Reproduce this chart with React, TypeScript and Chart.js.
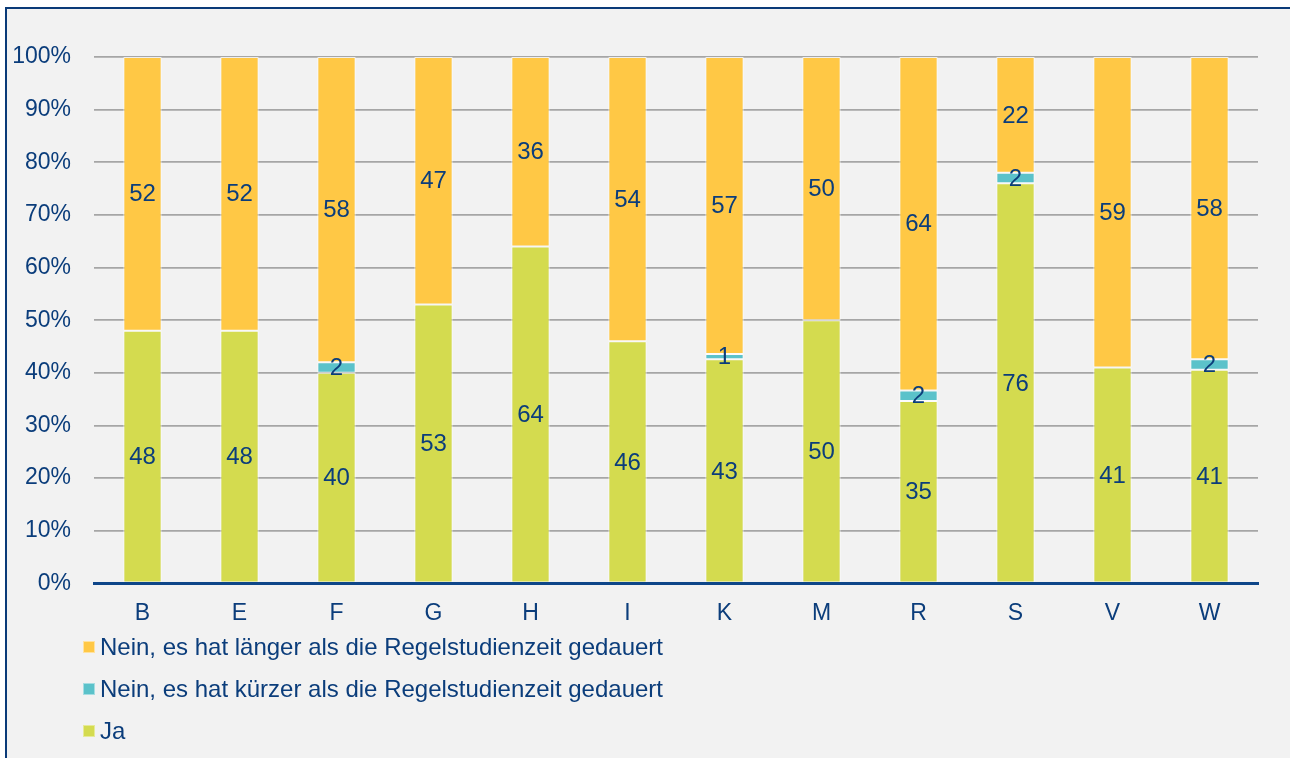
import React, { useEffect, useRef } from "react";
import { Chart, registerables } from "chart.js";

Chart.register(...registerables);

const categories = ["B", "E", "F", "G", "H", "I", "K", "M", "R", "S", "V", "W"];
const jaValues = [48, 48, 40, 53, 64, 46, 43, 50, 35, 76, 41, 41];
const kuerzerValues = [0, 0, 2, 0, 0, 0, 1, 0, 2, 2, 0, 2];
const laengerValues = [52, 52, 58, 47, 36, 54, 57, 50, 64, 22, 59, 58];

const seriesNames = [
  "Ja",
  "Nein, es hat kürzer als die Regelstudienzeit gedauert",
  "Nein, es hat länger als die Regelstudienzeit gedauert",
];
const seriesColors = ["#D4DB4F", "#5BC2CA", "#FFC845"];
const seriesBorders = ["#E6EA98", "#A6DDE2", "#FFE2A0"];

const TEXT = "#0B3D7B";
const FONT = "'Liberation Sans', Arial, sans-serif";

const rawSeries = [jaValues, kuerzerValues, laengerValues];
const totals = categories.map((_, i) => rawSeries.reduce((s, arr) => s + arr[i], 0));

const valueLabels = {
  id: "valueLabels",
  afterDatasetsDraw(chart: any) {
    const ctx = chart.ctx;
    ctx.save();
    ctx.fillStyle = TEXT;
    ctx.font = `24px ${FONT}`;
    ctx.textAlign = "center";
    ctx.textBaseline = "middle";
    chart.data.datasets.forEach((ds: any, di: number) => {
      const meta = chart.getDatasetMeta(di);
      meta.data.forEach((bar: any, i: number) => {
        const raw = rawSeries[di][i];
        if (!raw) return;
        const y = (bar.y + bar.base) / 2;
        ctx.fillText(String(raw), bar.x, y + 1);
      });
    });
    ctx.restore();
  },
};

export default function App() {
  const canvasRef = useRef<HTMLCanvasElement | null>(null);

  useEffect(() => {
    if (!canvasRef.current) return;
    const chart = new Chart(canvasRef.current, {
      type: "bar",
      data: {
        labels: categories,
        datasets: rawSeries.map((arr, di) => ({
          label: seriesNames[di],
          data: arr.map((v, i) => (v / totals[i]) * 100),
          backgroundColor: seriesColors[di],
          borderColor: "rgba(255,255,255,0.75)",
          borderWidth: 1,
          borderSkipped: false,
          stack: "s",
          categoryPercentage: 1,
          barPercentage: 0.395,
        })),
      },
      options: {
        animation: false,
        responsive: false,
        maintainAspectRatio: false,
        layout: { padding: { left: 6, right: 32, top: 48, bottom: 6 } },
        plugins: {
          legend: { display: false },
          tooltip: { enabled: false },
        },
        scales: {
          x: {
            stacked: true,
            grid: { display: false },
            border: { display: true, color: "#0E4689", width: 3, z: 1 },
            ticks: {
              color: TEXT,
              font: { family: FONT, size: 23 },
              padding: 8,
            },
          },
          y: {
            stacked: true,
            min: 0,
            max: 100,
            afterFit: (s: any) => {
              s.width = 81;
            },
            grid: { color: "#A6A6A6", lineWidth: 1.8, drawTicks: false },
            border: { display: false },
            ticks: {
              stepSize: 10,
              color: TEXT,
              font: { family: FONT, size: 23 },
              padding: 23,
              callback: (v: any) => `${v}%`,
            },
          },
        },
      },
      plugins: [valueLabels],
    });
    return () => chart.destroy();
  }, []);

  const legendOrder = [2, 1, 0];

  return (
    <div
      style={{
        position: "fixed",
        left: 5,
        top: 7,
        width: 1300,
        height: 770,
        borderTop: "2px solid #0A3A78",
        borderLeft: "2px solid #0A3A78",
        background: "#F2F2F2",
        fontFamily: FONT,
      }}
    >
      <canvas ref={canvasRef} width={1283} height={632} style={{ display: "block" }} />
      <div style={{ position: "absolute", left: 76, top: 617 }}>
        {legendOrder.map((di) => (
          <div
            key={di}
            style={{ display: "flex", alignItems: "center", height: 42, color: TEXT, fontSize: 24 }}
          >
            <span
              style={{
                display: "inline-block",
                width: 10,
                height: 10,
                background: seriesColors[di],
                border: `1px solid ${seriesBorders[di]}`,
                marginRight: 5,
              }}
            />
            <span style={{ whiteSpace: "nowrap" }}>{seriesNames[di]}</span>
          </div>
        ))}
      </div>
    </div>
  );
}
